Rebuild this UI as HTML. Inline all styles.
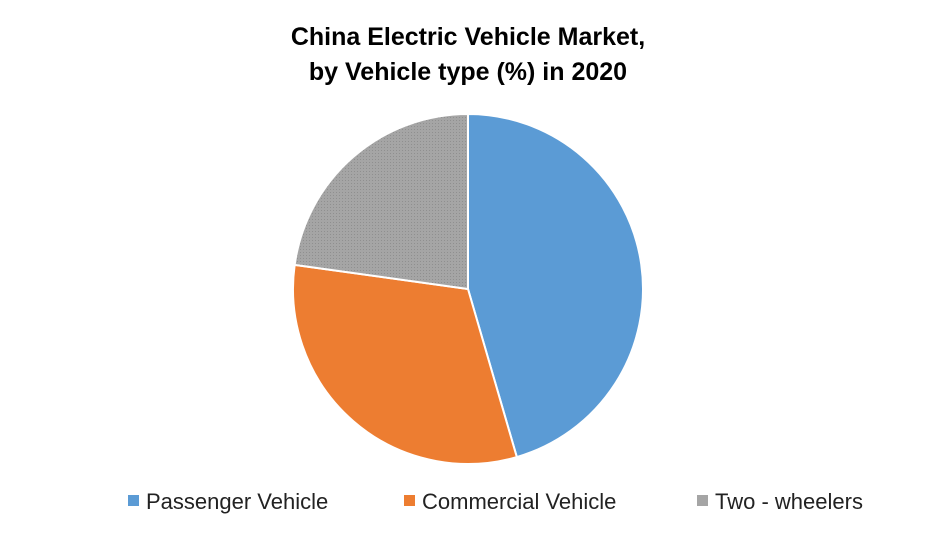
<!DOCTYPE html>
<html><head><meta charset="utf-8"><style>
body{margin:0;background:#fff;width:936px;height:543px;overflow:hidden;font-family:"Liberation Sans",sans-serif}
</style></head><body>
<svg width="936" height="543">
<defs><pattern id="dots" width="3" height="3" patternUnits="userSpaceOnUse"><rect width="3" height="3" fill="#a5a5a5"/><rect width="1" height="1" fill="#8f8f8f"/></pattern></defs>
<text x="468" y="45" text-anchor="middle" font-size="25" font-weight="bold" fill="#000">China Electric Vehicle Market,</text>
<text x="468" y="80" text-anchor="middle" font-size="25" font-weight="bold" fill="#000">by Vehicle type (%) in 2020</text>
<g id="slices"></g>
<g id="legend"></g>
</svg>
<script>
const categories=["Passenger Vehicle","Commercial Vehicle","Two - wheelers"];
const values=[45.5,31.7,22.8];
const colors=["#5b9bd5","#ed7d31","url(#dots)"];
const legendColors=["#5b9bd5","#ed7d31","#a5a5a5"];
const ns="http://www.w3.org/2000/svg";
const cx=468,cy=289,r=175;
const total=values.reduce((a,b)=>a+b,0);
let a0=0;
const g=document.getElementById('slices');
values.forEach((v,i)=>{
 const a1=a0+v/total*2*Math.PI;
 const x0=cx+r*Math.sin(a0),y0=cy-r*Math.cos(a0),x1=cx+r*Math.sin(a1),y1=cy-r*Math.cos(a1);
 const p=document.createElementNS(ns,'path');
 p.setAttribute('d',`M${cx},${cy}L${x0},${y0}A${r},${r} 0 ${a1-a0>Math.PI?1:0} 1 ${x1},${y1}Z`);
 p.setAttribute('fill',colors[i]);p.setAttribute('stroke','#fff');p.setAttribute('stroke-width','2');
 
 
 g.appendChild(p);a0=a1;
});
const lg=document.getElementById('legend');
const lx=[128,404,697];
categories.forEach((c,i)=>{
 const grp=document.createElementNS(ns,'g');
 
 
 const s=document.createElementNS(ns,'rect');
 s.setAttribute('x',lx[i]);s.setAttribute('y',495);s.setAttribute('width',11);s.setAttribute('height',11);s.setAttribute('fill',legendColors[i]);
 const t=document.createElementNS(ns,'text');
 t.setAttribute('x',lx[i]+18);t.setAttribute('y',509);t.setAttribute('font-size','22');t.setAttribute('fill','#222');
 t.textContent=c;
 grp.appendChild(s);grp.appendChild(t);lg.appendChild(grp);
});
</script>
</body></html>
